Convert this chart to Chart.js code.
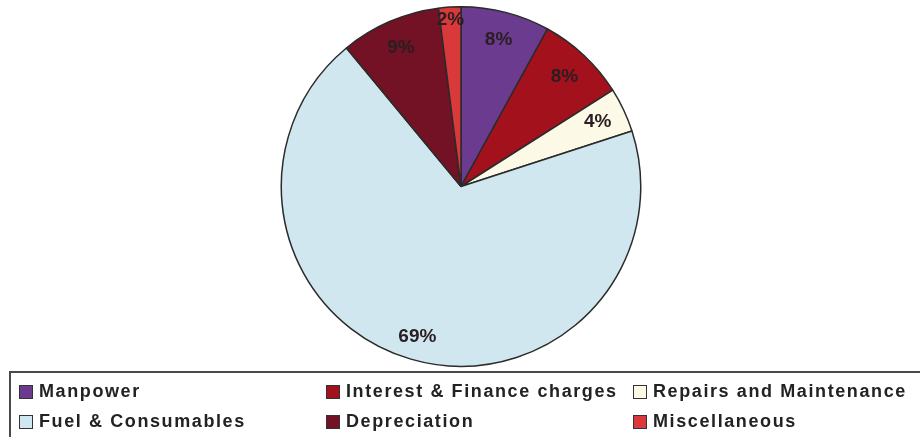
<!DOCTYPE html>
<html>
<head>
<meta charset="utf-8">
<script src="https://cdn.jsdelivr.net/npm/chart.js@4.4.0/dist/chart.umd.min.js"></script>
<style>
  html, body { margin: 0; padding: 0; background: #ffffff; width: 920px; height: 437px; overflow: hidden; }
  #wrap { position: absolute; left: 0; top: 0; width: 920px; height: 372px; }
  #legend { position: absolute; left: 9px; top: 371px; width: 930px; height: 80px;
            border: 2px solid #4a4a4a; box-sizing: border-box; }
  .item { position: absolute; font-family: "Liberation Sans", Arial, sans-serif; font-weight: bold;
          font-size: 18px; letter-spacing: 1.6px; color: #222222; white-space: nowrap; line-height: 20px; }
  .sw { position: absolute; width: 12px; height: 12px; border: 1px solid #333; }
</style>
</head>
<body>
<div id="wrap"><canvas id="c"></canvas></div>
<div id="legend"></div>
<script>
const categories = ["Manpower", "Interest & Finance charges", "Repairs and Maintenance", "Fuel & Consumables", "Depreciation", "Miscellaneous"];
const shares = [8, 8, 4, 69, 9, 2];
const sliceLabels = ["8%", "8%", "4%", "69%", "9%", "2%"];
const colors = ["#6b3b8f", "#a3111c", "#fcf9e6", "#d0e7ef", "#721224", "#d9393b"];

const labelPlugin = {
  id: 'sliceLabels',
  afterDatasetsDraw(chart) {
    const ctx = chart.ctx;
    const meta = chart.getDatasetMeta(0);
    ctx.save();
    ctx.font = 'bold 19px "Liberation Sans", Arial, sans-serif';
    ctx.fillStyle = '#2a1e22';
    ctx.textAlign = 'center';
    ctx.textBaseline = 'middle';
    meta.data.forEach((arc, i) => {
      const p = arc.getProps(['x', 'y', 'startAngle', 'endAngle', 'outerRadius'], true);
      const mid = (p.startAngle + p.endAngle) / 2;
      const f = shares[i] < 3 ? 0.93 : (shares[i] > 50 ? 0.87 : 0.84);
      const r = p.outerRadius * f;
      ctx.fillText(sliceLabels[i], p.x + Math.cos(mid) * r, p.y + Math.sin(mid) * r);
    });
    ctx.restore();
  }
};

new Chart(document.getElementById('c'), {
  type: 'pie',
  data: {
    labels: categories,
    datasets: [{
      data: shares,
      backgroundColor: colors,
      borderColor: '#2b2b2b',
      borderWidth: 1.5
    }]
  },
  options: {
    responsive: true,
    maintainAspectRatio: false,
    animation: false,
    layout: { padding: { top: 6, bottom: 5, left: 2, right: 0 } },
    plugins: { legend: { display: false }, tooltip: { enabled: false } }
  },
  plugins: [labelPlugin]
});

// legend built from the same arrays
const legend = document.getElementById('legend');
const colX = [8, 315, 622];
const rowY = [10, 40];
categories.forEach((name, i) => {
  const col = i % 3, row = Math.floor(i / 3);
  const sw = document.createElement('div');
  sw.className = 'sw';
  sw.style.left = colX[col] + 'px';
  sw.style.top = (rowY[row] + 2) + 'px';
  sw.style.background = colors[i];
  legend.appendChild(sw);
  const t = document.createElement('div');
  t.className = 'item';
  t.style.left = (colX[col] + 20) + 'px';
  t.style.top = rowY[row] - 2 + 'px';
  t.textContent = name;
  legend.appendChild(t);
});
</script>
</body>
</html>
